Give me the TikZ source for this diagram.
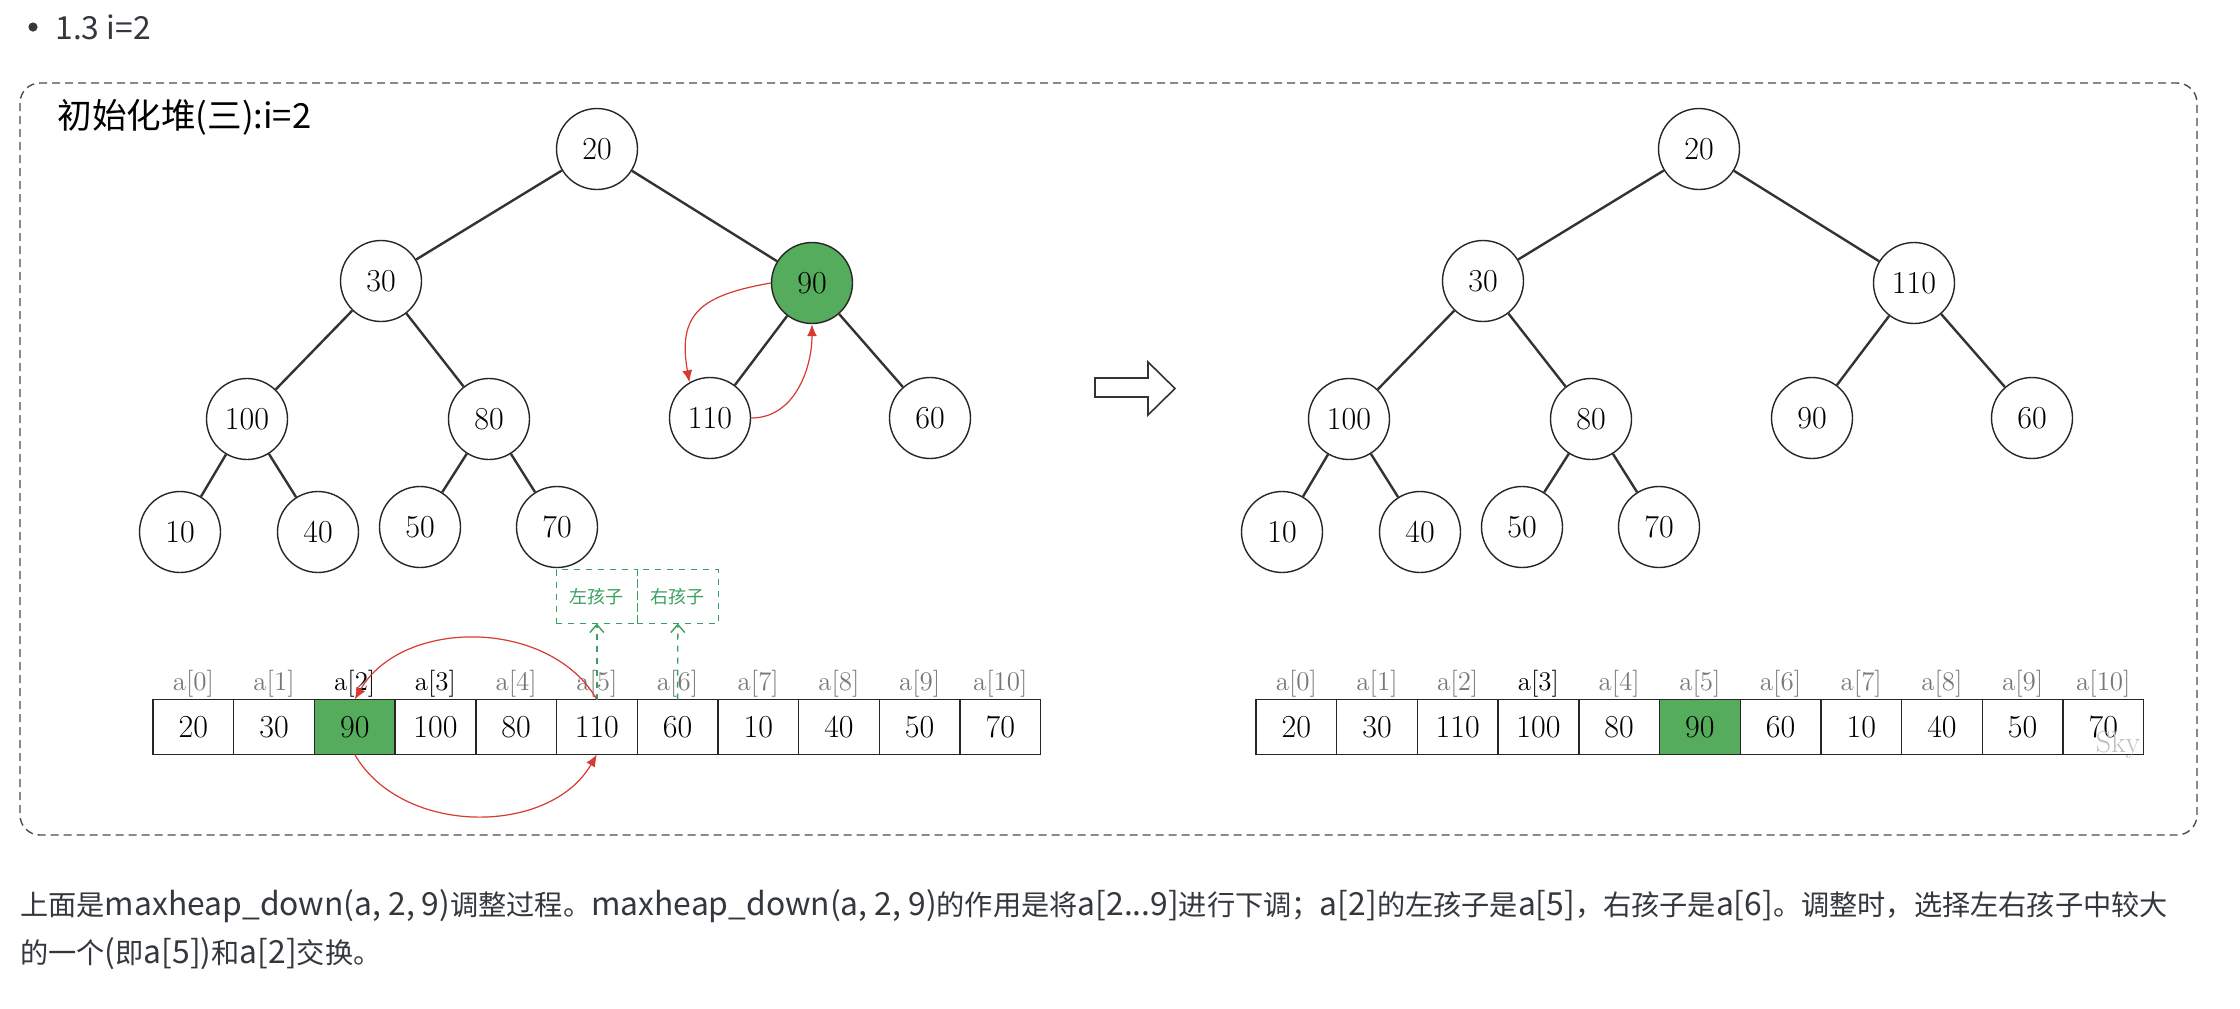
\documentclass[tikz,border=0pt]{standalone}
\usepackage{fontspec}
\newfontfamily\cjk{Noto Sans CJK SC}
\usetikzlibrary{positioning,arrows.meta}
\definecolor{heapgreen}{RGB}{84,172,92}
\definecolor{swapred}{RGB}{214,58,48}
\definecolor{kidgreen}{RGB}{58,160,96}
\definecolor{pagetext}{RGB}{51,55,62}
\definecolor{idxc}{RGB}{120,120,120}
\newcommand\lat[1]{{\fontsize{15.9}{16}\selectfont#1}}
\tikzset{
  hnode/.style={circle,draw=black!85,line width=0.7pt,minimum size=40.5pt,inner sep=0pt,
    font=\fontsize{16}{18}\selectfont},
  edge/.style={line width=1.2pt,black!80},
  cell/.style={draw=black!85,line width=0.7pt,minimum width=40.35pt,minimum height=27.5pt,
    inner sep=0pt,outer sep=0pt,font=\fontsize{16}{18}\selectfont},
  idx/.style={font=\fontsize{13.5}{15}\selectfont,inner sep=1pt,anchor=south},
  swaparrow/.style={swapred,line width=0.6pt,-{Latex[length=6pt,width=5pt]}},
  kidbox/.style={draw=kidgreen,dashed,line width=0.7pt,text=kidgreen,minimum width=40.5pt,
    minimum height=27pt,inner sep=0pt,outer sep=0pt,font=\cjk\fontsize{9}{10}\selectfont},
  kidarrow/.style={kidgreen,dashed,line width=0.7pt,-{Straight Barb[length=4pt,width=7pt]}},
  outerbox/.style={draw=black!70,line width=0.7pt,dash pattern=on 4pt off 2.5pt,rounded corners=10pt},
  pagefont/.style={text=pagetext,font=\cjk\fontsize{14.1}{16}\selectfont,inner sep=0pt,anchor=west},
}
\begin{document}
\begin{tikzpicture}[x=0.5pt,y=-0.5pt]
\useasboundingbox (0,0) rectangle (2240,1008);

\fill[pagetext] (33,27) circle (2.3pt);
\node[pagefont] (head) at (55,27) {\lat{1.3 i=2}};

\draw[outerbox] (20,83) rectangle (2197,835);
\node[anchor=west,inner sep=0pt,font=\cjk\fontsize{17.3}{19}\selectfont] (title) at (57,117)
  {初始化堆(三):i=2};

\foreach \k/\x/\y/\u/\fu/\w/\fw in {0/597/149/20/white/20/white,1/381/281/30/white/30/white,
    2/812/283/90/heapgreen/110/white,3/247/419/100/white/100/white,4/489/419/80/white/80/white,
    5/710/418/110/white/90/white,6/930/418/60/white/60/white,7/180/532/10/white/10/white,
    8/318/532/40/white/40/white,9/420/527/50/white/50/white,10/557/527/70/white/70/white} {
  \node[hnode,fill=\fu] (L\k) at (\x,\y) {\u};
  \node[hnode,fill=\fw] (R\k) at (\x+1102,\y) {\w};
}
\foreach \a/\b in {0/1,0/2,1/3,1/4,2/5,2/6,3/7,3/8,4/9,4/10} {
  \draw[edge] (L\a) -- (L\b);
  \draw[edge] (R\a) -- (R\b);
}

\draw[swaparrow] (L2.west) to[out=190,in=100,looseness=1.4] (L5.120);
\draw[swaparrow] (L5.east) to[out=0,in=-90] (L2.south);

\draw[line width=0.8pt,black!80] (1095,378) -- (1148,378) -- (1148,362) -- (1175,388.5)
  -- (1148,415) -- (1148,397) -- (1095,397) -- cycle;

\foreach \u/\fu/\w/\fw [count=\i from 0] in {20/white/20/white,30/white/30/white,
    90/heapgreen/110/white,100/white/100/white,80/white/80/white,110/white/90/heapgreen,
    60/white/60/white,10/white/10/white,40/white/40/white,50/white/50/white,70/white/70/white} {
  \node[cell,fill=\fu] (la\i) at ({153+80.7*(\i+0.5)},727) {\u};
  \node[cell,fill=\fw] (ra\i) at ({1256+80.7*(\i+0.5)},727) {\w};
}
\foreach \cl/\cr [count=\i from 0] in {idxc/idxc,idxc/idxc,black/idxc,black/black,idxc/idxc,
    idxc/idxc,idxc/idxc,idxc/idxc,idxc/idxc,idxc/idxc,idxc/idxc} {
  \node[idx,text=\cl] at (la\i.north) {a[\i]};
  \node[idx,text=\cr] at (ra\i.north) {a[\i]};
}

\node[kidbox,above=38pt of la5] (lbox) {左孩子};
\node[kidbox,right=0pt of lbox] (rbox) {右孩子};
\draw[kidarrow] (la5.north) -- (lbox.south);
\draw[kidarrow] (la6.north) -- (rbox.south);

\draw[swaparrow] (la5.north) to[out=120,in=60] (la2.north);
\draw[swaparrow] (la2.south) to[out=-60,in=-120] (la5.south);

\node[text=black!25,font=\fontsize{15}{16}\selectfont] (sky) at (2118,745) {Sky};

\node[pagefont] (line1) at (20,906) {上面是\lat{maxheap\_down(a, 2, 9)}调整过程。\lat{maxheap\_down(a, 2, 9)}的作用是将\lat{a[2...9]}进行下调；\lat{a[2]}的左孩子是\lat{a[5]}，右孩子是\lat{a[6]}。调整时，选择左右孩子中较大};
\node[pagefont] (line2) at (20,954) {的一个\lat{(}即\lat{a[5])}和\lat{a[2]}交换。};
\end{tikzpicture}
\end{document}
